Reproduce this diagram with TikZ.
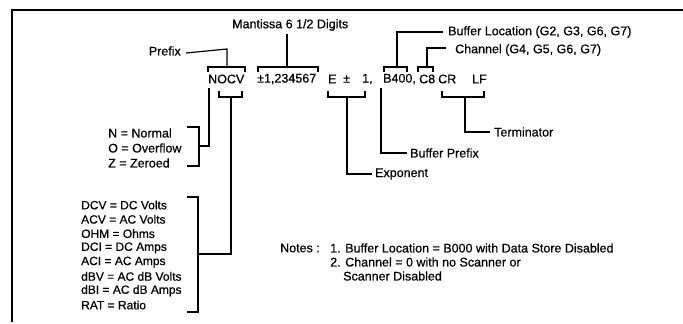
\documentclass[tikz,border=0pt]{standalone}
\usepackage{fontspec}
\setmainfont{Liberation Sans}[FakeBold=0.6]
\begin{document}
\begin{tikzpicture}[x=1pt,y=-1pt,
  lbl/.style={inner sep=0pt,anchor=west,font=\fontsize{12.5}{14}\selectfont},
  lblr/.style={inner sep=0pt,anchor=east,font=\fontsize{12.5}{14}\selectfont},
  lst/.style={inner sep=0pt,anchor=west,font=\fontsize{12}{14}\selectfont},
  ln/.style={line width=1.2pt,black}]
\useasboundingbox (0,0) rectangle (683,324);
% frame
\draw[line width=1.3pt] (683,10) -- (12,10) -- (12,322);
% main string
\node[lbl] (nocv) at (208,79) {NOCV};
\node[lbl] (mant) at (257,79) {±1,234567};
\node[lbl] (e) at (328,79) {E};
\node[lbl] (pm) at (343,79) {±};
\node[lbl] (one) at (362,79) {1,};
\node[lbl] (b400) at (383,79) {B400,};
\node[lbl] (c8) at (419,79) {C8};
\node[lbl] (cr) at (438,79) {CR};
\node[lbl] (lf) at (472,79) {LF};
% labels
\node[lbl] (mantl) at (232,25) {Mantissa 6 1/2 Digits};
\node[lblr] (prefix) at (181,51) {Prefix};
\node[lbl] (bufloc) at (448,32) {Buffer Location (G2, G3, G6, G7)};
\node[lbl] (chan) at (455,50) {Channel (G4, G5, G6, G7)};
\node[lbl] (term) at (494,132) {Terminator};
\node[lbl] (bufpre) at (410,153) {Buffer Prefix};
\node[lbl] (expo) at (375,174) {Exponent};
% status list
\node[lbl] (nn) at (108,133) {N = Normal};
\node[lbl] (oo) at (108,148) {O = Overflow};
\node[lbl] (zz) at (108,163) {Z = Zeroed};
% function list
\node[lst] (f1) at (81,205) {DCV = DC Volts};
\node[lst] (f2) at (81,219.3) {ACV = AC Volts};
\node[lst] (f3) at (81,233.6) {OHM = Ohms};
\node[lst] (f4) at (81,247.9) {DCI = DC Amps};
\node[lst] (f5) at (81,262.1) {ACI = AC Amps};
\node[lst] (f6) at (81,276.4) {dBV = AC dB Volts};
\node[lst] (f7) at (81,290.7) {dBI = AC dB Amps};
\node[lst] (f8) at (81,305) {RAT = Ratio};
% notes
\node[lbl] (notes) at (280,248) {Notes :};
\node[lbl] (n1) at (330,248) {1. Buffer Location = B000 with Data Store Disabled};
\node[lbl] (n2) at (330,262) {2. Channel = 0 with no Scanner or};
\node[lbl] (n3) at (343,276) {Scanner Disabled};
% upper brackets
\draw[ln] (208,72) -- (208,67) -- (245,67) -- (245,72);
\draw[ln] ([xshift=5pt,yshift=-2pt]prefix.east) -- (227,49) -- (227,67);
\draw[ln] (258,72) -- (258,67) -- (318,67) -- (318,72);
\draw[ln] (287,34) -- (287,67);
\draw[ln] (384,72) -- (384,67) -- (407,67) -- (407,72);
\draw[ln] (397,67) -- (397,32) -- ([xshift=-5pt]bufloc.west);
\draw[ln] (418,72) -- (418,67) -- (433,67) -- (433,72);
\draw[ln] (427,67) -- (427,48) -- ([xshift=-9pt,yshift=2pt]chan.west);
% lower brackets
\draw[ln] (219,91) -- (219,97) -- (242,97) -- (242,91);
\draw[ln] (231,97) -- (231,254) -- (198,254);
\draw[ln] (209,88) -- (209,146) -- (199,146);
\draw[ln] (328,91) -- (328,97) -- (365,97) -- (365,91);
\draw[ln] (347,97) -- (347,174) -- ([xshift=-3pt]expo.west);
\draw[ln] (381,88) -- (381,153) -- ([xshift=-3pt]bufpre.west);
\draw[ln] (442,91) -- (442,97) -- (484,97) -- (484,91);
\draw[ln] (465,97) -- (465,132) -- ([xshift=-4pt]term.west);
% list brackets
\draw[ln] (187,127) -- (199,127) -- (199,166) -- (187,166);
\draw[ln] (187,197) -- (198,197) -- (198,312) -- (187,312);
\end{tikzpicture}
\end{document}
